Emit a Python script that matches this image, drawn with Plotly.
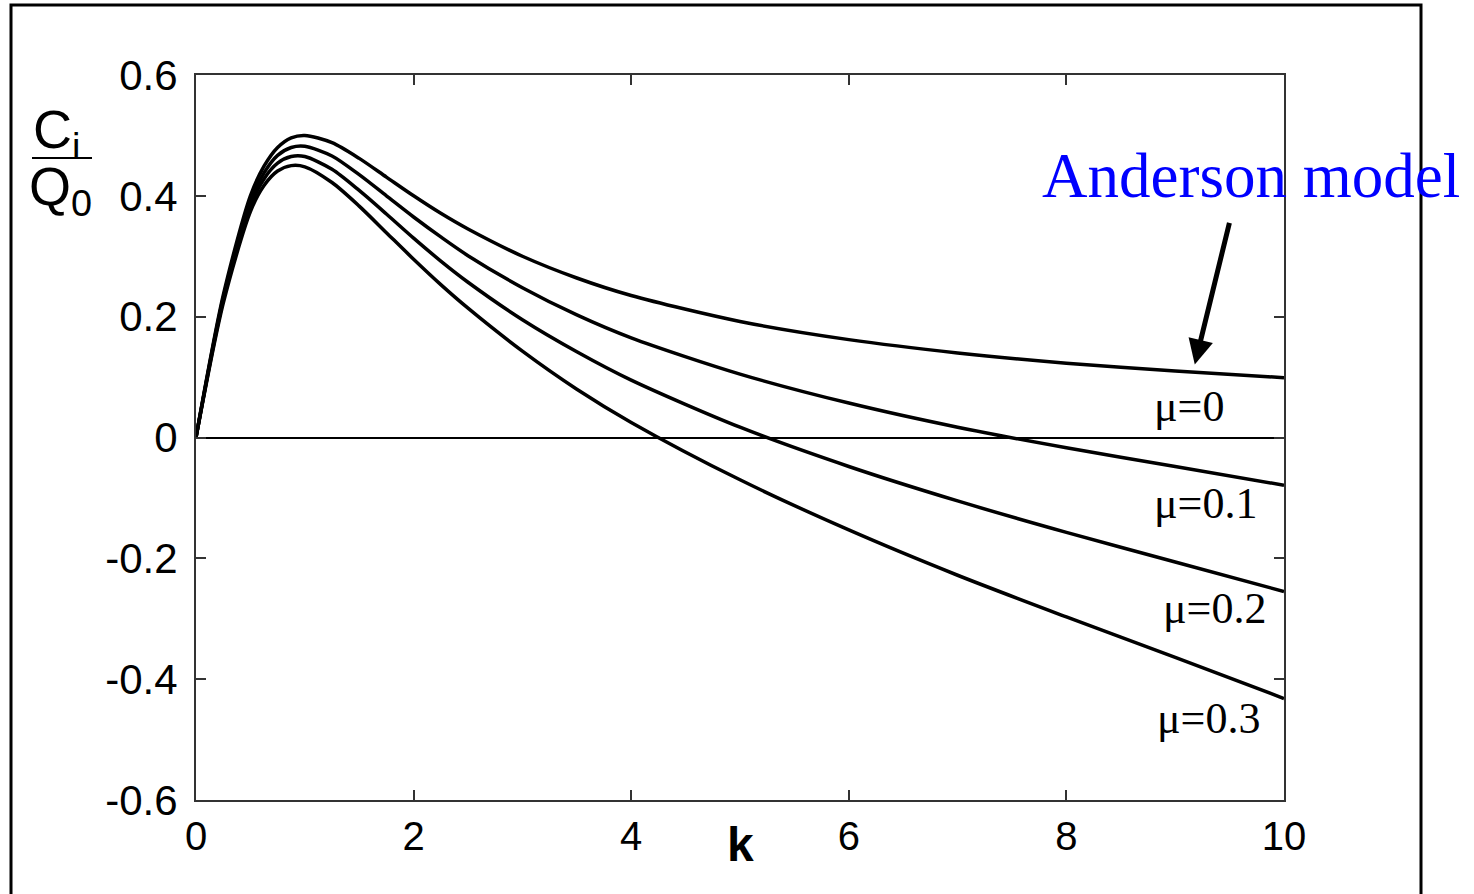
import plotly.graph_objects as go

# k values read along the x axis
k = [0, 0.25, 0.5, 0.625, 0.75, 0.875, 1, 1.25, 1.5, 1.75, 2, 2.25, 2.5, 3, 3.5, 4, 5, 6, 7, 8, 9, 10]

# C_i / Q_0 for each mu
ci_mu0 = [0, 0.235, 0.400, 0.449, 0.480, 0.496, 0.500, 0.488, 0.462, 0.431, 0.400, 0.371, 0.345, 0.300, 0.264, 0.235, 0.192, 0.162, 0.140, 0.123, 0.110, 0.099]
ci_mu01 = [0, 0.231, 0.391, 0.438, 0.467, 0.480, 0.482, 0.466, 0.435, 0.400, 0.365, 0.332, 0.301, 0.248, 0.203, 0.165, 0.105, 0.057, 0.017, -0.017, -0.048, -0.079]
ci_mu02 = [0, 0.227, 0.383, 0.428, 0.454, 0.465, 0.465, 0.444, 0.409, 0.370, 0.330, 0.292, 0.257, 0.195, 0.142, 0.095, 0.017, -0.048, -0.105, -0.157, -0.206, -0.255]
ci_mu03 = [0, 0.222, 0.374, 0.417, 0.441, 0.450, 0.448, 0.422, 0.383, 0.339, 0.295, 0.253, 0.214, 0.143, 0.080, 0.025, -0.070, -0.153, -0.228, -0.297, -0.364, -0.432]

series = [ci_mu0, ci_mu01, ci_mu02, ci_mu03]
labels = ["μ=0", "μ=0.1", "μ=0.2", "μ=0.3"]
label_x = [9.13, 9.28, 9.36, 9.31]
label_y = [0.051, -0.109, -0.283, -0.465]

x_ticks = [0, 2, 4, 6, 8, 10]
y_ticks = [-0.6, -0.4, -0.2, 0, 0.2, 0.4, 0.6]
y_tick_text = ["-0.6", "-0.4", "-0.2", "0", "0.2", "0.4", "0.6"]

W, H = 1474, 894
L, R, T, B = 196, 190, 75, 94
pw, ph = W - L - R, H - T - B


def px(xp):
    return (xp - L) / pw


def py(yp):
    return (H - B - yp) / ph


fig = go.Figure()
for ys in series:
    fig.add_trace(go.Scatter(x=k, y=ys, mode="lines",
                             line=dict(color="black", width=3.5, shape="spline", smoothing=0.8),
                             showlegend=False, hoverinfo="skip"))

annotations = []
for lx, ly, t in zip(label_x, label_y, labels):
    annotations.append(dict(x=lx, y=ly, xref="x", yref="y", text=t, showarrow=False,
                            xanchor="center", yanchor="middle",
                            font=dict(family="Liberation Serif", size=44, color="black")))

# Anderson model label and arrow
annotations.append(dict(x=px(1251), y=py(176), xref="paper", yref="paper", text="Anderson model",
                        showarrow=False, xanchor="center", yanchor="middle",
                        font=dict(family="Liberation Serif", size=63, color="#0000ff")))
annotations.append(dict(x=9.18, y=0.121, xref="x", yref="y", text="", showarrow=True,
                        ax=35, ay=-143, arrowcolor="black", arrowwidth=5, arrowhead=2, arrowsize=1))

# axis title k
annotations.append(dict(x=5, y=py(845), xref="x", yref="paper", text="<b>k</b>", showarrow=False,
                        xanchor="center", yanchor="middle",
                        font=dict(family="Liberation Sans", size=48, color="black")))

# y title: Ci / Q0
annotations.append(dict(x=px(56), y=py(133), xref="paper", yref="paper", text="C<sub>i</sub>",
                        showarrow=False, xanchor="center", yanchor="middle",
                        font=dict(family="Liberation Sans", size=54, color="black")))
annotations.append(dict(x=px(60), y=py(190), xref="paper", yref="paper", text="Q<sub>0</sub>",
                        showarrow=False, xanchor="center", yanchor="middle",
                        font=dict(family="Liberation Sans", size=54, color="black")))

shapes = [
    dict(type="rect", xref="paper", yref="paper", x0=px(11), x1=px(1421), y0=py(905), y1=py(5),
         line=dict(color="black", width=3), layer="below"),
    dict(type="line", xref="paper", yref="paper", x0=px(32), x1=px(92), y0=py(158), y1=py(158),
         line=dict(color="black", width=2)),
]

fig.update_layout(
    width=W, height=H,
    margin=dict(l=L, r=R, t=T, b=B),
    paper_bgcolor="white", plot_bgcolor="white",
    annotations=annotations, shapes=shapes,
    showlegend=False,
)
fig.update_xaxes(range=[0, 10], tickvals=x_ticks, ticktext=[str(v) for v in x_ticks],
                 ticks="inside", ticklen=10, tickwidth=1.5, tickcolor="#333",
                 showline=True, linecolor="#333", linewidth=2, mirror="allticks",
                 showgrid=False, zeroline=False,
                 tickfont=dict(family="Liberation Sans", size=40, color="black"))
fig.update_yaxes(range=[-0.6, 0.6], tickvals=y_ticks, ticktext=y_tick_text,
                 ticks="inside", ticklen=10, tickwidth=1.5, tickcolor="#333",
                 showline=True, linecolor="#333", linewidth=2, mirror="allticks",
                 showgrid=False, zeroline=True, zerolinecolor="black", zerolinewidth=1.5,
                 ticklabelstandoff=8,
                 tickfont=dict(family="Liberation Sans", size=42, color="black"))

fig.write_html("out.html")
